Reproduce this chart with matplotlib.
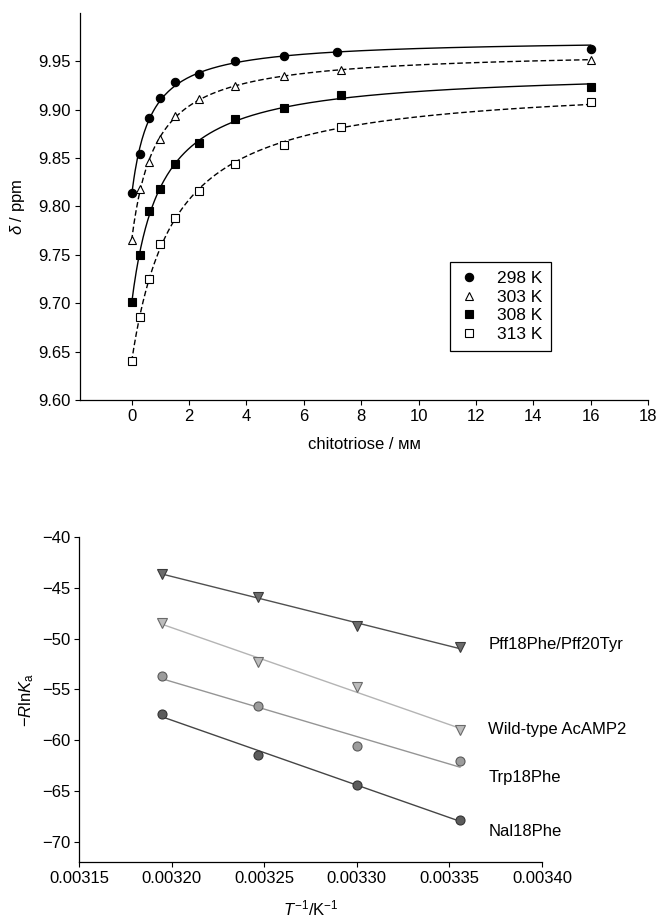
import matplotlib
matplotlib.use('Agg')
import matplotlib.pyplot as plt
import numpy as np

plt.rcParams['font.family'] = ['Liberation Sans', 'DejaVu Sans']
plt.rcParams['mathtext.fontset'] = 'custom'
plt.rcParams['mathtext.rm'] = 'Liberation Sans'
plt.rcParams['mathtext.it'] = 'Liberation Sans:italic'

# --- top panel: chemical shift titration ---
conc_298 = np.array([0, 0.3, 0.6, 1.0, 1.5, 2.35, 3.6, 5.3, 7.15, 16.0])
conc = np.array([0, 0.3, 0.6, 1.0, 1.5, 2.35, 3.6, 5.3, 7.3, 16.0])
shift_298 = np.array([9.814, 9.854, 9.891, 9.912, 9.929, 9.937, 9.950, 9.956, 9.960, 9.963])
shift_303 = np.array([9.765, 9.818, 9.846, 9.870, 9.894, 9.911, 9.925, 9.935, 9.941, 9.951])
shift_308 = np.array([9.701, 9.750, 9.795, 9.818, 9.844, 9.866, 9.890, 9.902, 9.915, 9.924])
shift_313 = np.array([9.640, 9.686, 9.725, 9.761, 9.788, 9.816, 9.844, 9.864, 9.882, 9.908])
temps = ['298 K', '303 K', '308 K', '313 K']

# --- bottom panel: van 't Hoff ---
inv_T = 1.0 / np.array([313.0, 308.0, 303.0, 298.0])
pff = np.array([-43.66, -45.87, -48.73, -50.87])
wild = np.array([-48.5, -52.3, -54.8, -59.04])
trp = np.array([-53.7, -56.67, -60.62, -62.07])
nal = np.array([-57.4, -61.5, -64.4, -67.87])
names = ['Pff18Phe/Pff20Tyr', 'Wild-type AcAMP2', 'Trp18Phe', 'Nal18Phe']
name_y = [-50.6, -59.0, -63.7, -69.0]


def hyper_fit(x, y):
    # 1:1 binding hyperbola, Kd by grid search, the rest by least squares
    best = None
    for kd in np.linspace(0.05, 5, 2000):
        A = np.column_stack([np.ones_like(x), x / (kd + x)])
        coef = np.linalg.lstsq(A, y, rcond=None)[0]
        sse = np.sum((A @ coef - y) ** 2)
        if best is None or sse < best[0]:
            best = (sse, coef[0], coef[1], kd)
    return best[1:]


fig = plt.figure(figsize=(6.56, 9.22), dpi=100)

ax = fig.add_axes([80/656, 1-400/922, (648-80)/656, (400-13)/922])
series = [(conc_298, shift_298, 'o', 'k', '-'),
          (conc, shift_303, '^', 'white', '--'),
          (conc, shift_308, 's', 'k', '-'),
          (conc, shift_313, 's', 'white', '--')]
xs = np.linspace(0, 16, 400)
for (x, y, m, fc, ls), lab in zip(series, temps):
    d0, dd, kd = hyper_fit(x, y)
    ax.plot(xs, d0 + dd * xs / (kd + xs), color='k', ls=ls, lw=1.0,
            dashes=(4, 2) if ls == '--' else (None, None))
    ms = 6 if m == 'o' else 5.5
    ax.plot(x, y, ls='none', marker=m, ms=ms, mfc=fc, mec='k', mew=0.8,
            label=lab)

ax.set_xlim(-1.8, 18)
ax.set_ylim(9.60, 10.00)
ax.set_xticks(np.arange(0, 19, 2))
ax.set_yticks(np.arange(9.60, 9.96, 0.05))
ax.set_yticklabels([f'{v:.2f}' for v in np.arange(9.60, 9.96, 0.05)])
ax.set_xlabel('chitotriose / ᴍᴍ', fontsize=12, labelpad=9)
ax.set_ylabel(r'$\delta$ / ppm', fontsize=12, labelpad=8)
leg = ax.legend(loc='lower right', bbox_to_anchor=(0.845, 0.105),
                fontsize=12.5, frameon=True, fancybox=False,
                edgecolor='k', framealpha=1, labelspacing=0.2,
                handlelength=1.2, handletextpad=1.0, borderpad=0.5)
leg.get_frame().set_linewidth(0.9)

ax2 = fig.add_axes([79/656, 1-862/922, (542-79)/656, (862-537)/922])
styles = [('v', '#6b6b6b', '#3a3a3a', '#505050'),
          ('v', '#bcbcbc', '#6a6a6a', '#b4b4b4'),
          ('o', '#9c9c9c', '#5a5a5a', '#959595'),
          ('o', '#5c5c5c', '#333333', '#454545')]
for vals, (m, fc, ec, lc), nm, ny in zip([pff, wild, trp, nal], styles,
                                         names, name_y):
    k, b = np.polyfit(inv_T, vals, 1)
    ax2.plot(inv_T[[0, -1]], k * inv_T[[0, -1]] + b, color=lc, lw=1.0)
    ax2.plot(inv_T, vals, ls='none', marker=m, ms=7 if m == 'v' else 6.5,
             mfc=fc, mec=ec, mew=0.8)
    ax2.text(0.003371, ny, nm, fontsize=12, va='center', ha='left',
             clip_on=False)

ax2.set_xlim(0.00315, 0.00340)
ax2.set_ylim(-72, -40)
ax2.set_xticks(np.arange(0.00315, 0.003401, 0.00005))
ax2.set_xticklabels([f'{v:.5f}' for v in np.arange(0.00315, 0.003401, 0.00005)])
ax2.set_yticks(np.arange(-70, -39, 5))
ax2.set_xlabel(r'$T^{-1}$/K$^{-1}$', fontsize=12, labelpad=9)
ax2.set_ylabel(r'$-R\mathrm{ln}K_\mathrm{a}$', fontsize=12, labelpad=4)

for a in (ax, ax2):
    a.spines['top'].set_visible(False)
    a.spines['right'].set_visible(False)
    for s in ('left', 'bottom'):
        a.spines[s].set_linewidth(0.9)
    a.tick_params(direction='out', length=3.5, width=0.8, labelsize=12,
                  pad=3)

fig.savefig('out.png', dpi=100)
